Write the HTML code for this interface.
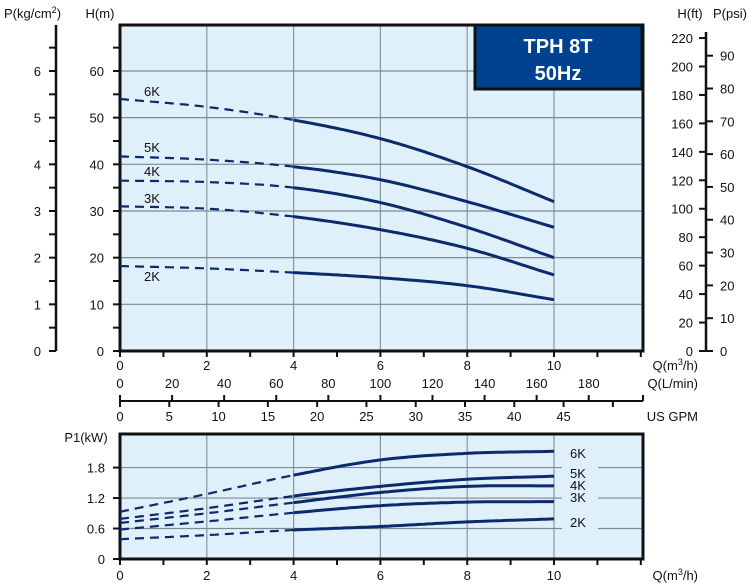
<!DOCTYPE html>
<html><head><meta charset="utf-8"><style>
html,body{margin:0;padding:0;background:#fff;}
svg{display:block;font-family:"Liberation Sans",sans-serif;}
</style></head><body>
<svg id="s" width="750" height="587" viewBox="0 0 750 587" xmlns="http://www.w3.org/2000/svg"></svg>
<script>
var s=document.getElementById('s'),h='';
function L(x1,y1,x2,y2,c,w){h+='<line x1="'+x1+'" y1="'+y1+'" x2="'+x2+'" y2="'+y2+'" stroke="'+c+'" stroke-width="'+w+'"/>';}
function T(x,y,t,a,sz,extra){h+='<text x="'+x+'" y="'+y+'" font-size="'+(sz||13)+'" text-anchor="'+(a||'middle')+'" fill="#111" '+(extra||'')+'>'+t+'</text>';}
var X0=120,XS=43.4;function qx(q){return X0+q*XS;}
function hy(m){return 351-m*4.667;}
function ky(k){return 559-k*50.8;}
// top plot
h+='<rect x="120" y="25" width="523" height="326" fill="#dff0fb"/>';
for(var q=2;q<=10;q+=2)L(qx(q),25,qx(q),351,'#8a969e',1.2);
for(var m=10;m<=60;m+=10)L(120,hy(m),643,hy(m),'#7d8a92',1.2);
h+='<rect x="120" y="25" width="523" height="326" fill="none" stroke="#111" stroke-width="3"/>';
// title box
h+='<rect x="475" y="25" width="167" height="64" fill="#004290" stroke="#111" stroke-width="3"/>';
T(558,53,'TPH 8T','middle',20,'font-weight="bold" fill="#fff" style="fill:#fff"');
T(558,80,'50Hz','middle',20,'font-weight="bold" style="fill:#fff"');
// H axis ticks
for(var m=0;m<=65;m+=5){L(113,hy(m),120,hy(m),'#111',2);}
for(var m=0;m<=60;m+=10)T(104,hy(m)+5,m,'end');
T(100,18,'H(m)','middle',13);
// P kg axis
L(56,25,56,351,'#111',2.5);
for(var p=0;p<=6.5;p+=0.5){L(49,hy(p*10),56,hy(p*10),'#111',2);}
for(var p=0;p<=6;p++)T(41,hy(p*10)+5,p,'end');
h+='<text x="4" y="18" font-size="13" fill="#111">P(kg/cm<tspan font-size="9" dy="-5">2</tspan><tspan dy="5">)</tspan></text>';
// Q ticks
for(var q=0;q<=12;q++)L(qx(q),351,qx(q),357,'#111',2);
for(var q=0;q<=10;q+=2)T(qx(q),370,q);
h+='<text x="698" y="370" font-size="13" text-anchor="end" fill="#111">Q(m<tspan font-size="9" dy="-5">3</tspan><tspan dy="5">/h)</tspan></text>';
// L/min & GPM
L(120,401,643,401,'#111',2);
for(var l=0;l<=180;l+=20){var x=qx(l*0.06);L(x,395,x,401,'#111',2);T(x,388,l);}
L(643,395,643,401,'#111',2);
for(var g=0;g<=50;g+=5){var x=qx(g*0.22712);L(x,401,x,407,'#111',2);if(g<=45)T(x,421,g);}
T(698,388,'Q(L/min)','end');T(698,421,'US GPM','end');
// right axes
L(706,32,706,351,'#111',2.5);
for(var f=0;f<=220;f+=20){var y=hy(f*0.3048);L(699,y,706,y,'#111',2);T(693,y+5,f,'end');}
for(var p=0;p<=90;p+=10){var y=hy(p*0.7031);L(706,y,713,y,'#111',2);T(720,y+5,p,'start');}
T(690,18,'H(ft)','middle');T(730,18,'P(psi)','middle');
// spline
function sp(pts,f,a,b){var d='';for(var i=0;i<=60;i++){var q=a+(b-a)*i/60;var k=Math.min(Math.floor(q/2),4);var t=(q-2*k)/2;var p0=pts[Math.max(k-1,0)],p1=pts[k],p2=pts[k+1],p3=pts[Math.min(k+2,5)];if(k==0)p0=2*p1-p2;if(k==4)p3=2*p2-p1;var v=0.5*((2*p1)+(-p0+p2)*t+(2*p0-5*p1+4*p2-p3)*t*t+(-p0+3*p1-3*p2+p3)*t*t*t);d+=(i?'L':'M')+qx(q).toFixed(1)+' '+f(v).toFixed(1);}return d;}
function curve(pts,f){h+='<path d="'+sp(pts,f,0,4)+'" fill="none" stroke="#0b2a6b" stroke-width="2.2" stroke-dasharray="9,6"/>';h+='<path d="'+sp(pts,f,4,10)+'" fill="none" stroke="#0b2a6b" stroke-width="3"/>';}
var H=[[54,52.3,49.5,45.5,39.5,32],[41.7,41,39.5,36.7,32,26.5],[36.5,36.2,35,31.8,26.5,20],[31,30.5,28.8,26,22,16.3],[18.2,17.7,16.8,15.7,14,11]];
H.forEach(function(p){curve(p,hy);});
T(152,96,'6K');T(152,152,'5K');T(152,176,'4K');T(152,203,'3K');T(152,281,'2K');
// bottom plot
h+='<rect x="120" y="434" width="523" height="125" fill="#dff0fb"/>';
for(var q=2;q<=10;q+=2)L(qx(q),434,qx(q),559,'#8a969e',1.2);
[0.6,1.2,1.8].forEach(function(k){L(120,ky(k),643,ky(k),'#7d8a92',1.2);});
h+='<rect x="562" y="440" width="36" height="92" fill="#dff0fb"/>';
h+='<rect x="120" y="434" width="523" height="125" fill="none" stroke="#111" stroke-width="3"/>';
var K=[[0.93,1.28,1.65,1.95,2.08,2.12],[0.79,1.0,1.24,1.43,1.57,1.63],[0.71,0.9,1.11,1.31,1.43,1.44],[0.58,0.74,0.91,1.05,1.12,1.13],[0.39,0.47,0.57,0.64,0.73,0.79]];
K.forEach(function(p){curve(p,ky);});
T(570,458,'6K','start');T(570,478,'5K','start');T(570,490,'4K','start');T(570,502,'3K','start');T(570,527,'2K','start');
for(var q=0;q<=12;q++)L(qx(q),559,qx(q),565,'#111',2);
for(var q=0;q<=10;q+=2)T(qx(q),580,q);
h+='<text x="698" y="580" font-size="13" text-anchor="end" fill="#111">Q(m<tspan font-size="9" dy="-5">3</tspan><tspan dy="5">/h)</tspan></text>';
[0,0.6,1.2,1.8].forEach(function(k){L(113,ky(k),120,ky(k),'#111',2);T(105,ky(k)+5,k==0?'0':k.toFixed(1),'end');});
T(86,442,'P1(kW)');
s.innerHTML=h;
</script>
</body></html>
